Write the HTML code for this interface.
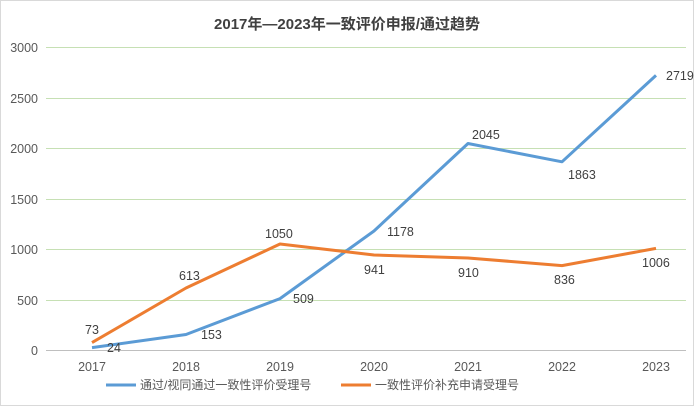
<!DOCTYPE html>
<html><head><meta charset="utf-8"><style>
body{margin:0;background:#fff}
svg{display:block;font-family:"Liberation Sans","Noto Sans CJK SC",sans-serif}
</style></head><body>
<svg width="694" height="406" viewBox="0 0 694 406">
<rect x="0.5" y="0.5" width="693" height="405" fill="#fff" stroke="#d9d9d9"/>
<text x="347" y="29" text-anchor="middle" font-size="15" font-weight="bold" fill="#404040">2017年—2023年一致评价申报/通过趋势</text>
<g stroke="#c6e0b4" stroke-width="1">
<line x1="46" x2="686" y1="47.5" y2="47.5"/>
<line x1="46" x2="686" y1="98.5" y2="98.5"/>
<line x1="46" x2="686" y1="148.5" y2="148.5"/>
<line x1="46" x2="686" y1="199.5" y2="199.5"/>
<line x1="46" x2="686" y1="249.5" y2="249.5"/>
<line x1="46" x2="686" y1="300.5" y2="300.5"/>
</g>
<line x1="46" x2="686" y1="350.5" y2="350.5" stroke="#bfbfbf"/>
<g font-size="12.5" fill="#595959" text-anchor="end">
<text x="38" y="52">3000</text><text x="38" y="103">2500</text><text x="38" y="153">2000</text>
<text x="38" y="204">1500</text><text x="38" y="254">1000</text><text x="38" y="305">500</text><text x="38" y="355">0</text>
</g>
<g font-size="12.5" fill="#595959" text-anchor="middle">
<text x="92" y="371">2017</text><text x="186" y="371">2018</text><text x="280" y="371">2019</text>
<text x="374" y="371">2020</text><text x="468" y="371">2021</text><text x="562" y="371">2022</text><text x="656" y="371">2023</text>
</g>
<polyline fill="none" stroke="#5b9bd5" stroke-width="3" stroke-linejoin="round" points="92,347.6 186,334.5 280,298.6 374,231 468,143.5 562,161.8 656,75.4"/>
<polyline fill="none" stroke="#ed7d31" stroke-width="3" stroke-linejoin="round" points="92,342.6 186,288 280,244 374,255 468,258 562,265.6 656,248.4"/>
<g font-size="12.5" fill="#404040">
<text x="107" y="352">24</text><text x="201" y="339">153</text><text x="293" y="303">509</text>
<text x="387" y="236">1178</text><text x="472" y="139">2045</text><text x="568" y="179">1863</text><text x="666" y="80">2719</text>
<text x="85" y="334">73</text><text x="179" y="280">613</text><text x="265" y="238">1050</text>
<text x="364" y="274">941</text><text x="458" y="277">910</text><text x="554" y="284">836</text><text x="642" y="267">1006</text>
</g>
<line x1="106" x2="136" y1="385" y2="385" stroke="#5b9bd5" stroke-width="3"/>
<text x="140" y="389" font-size="12" fill="#595959">通过/视同通过一致性评价受理号</text>
<line x1="341" x2="371" y1="385" y2="385" stroke="#ed7d31" stroke-width="3"/>
<text x="375" y="389" font-size="12" fill="#595959">一致性评价补充申请受理号</text>
</svg>
</body></html>
